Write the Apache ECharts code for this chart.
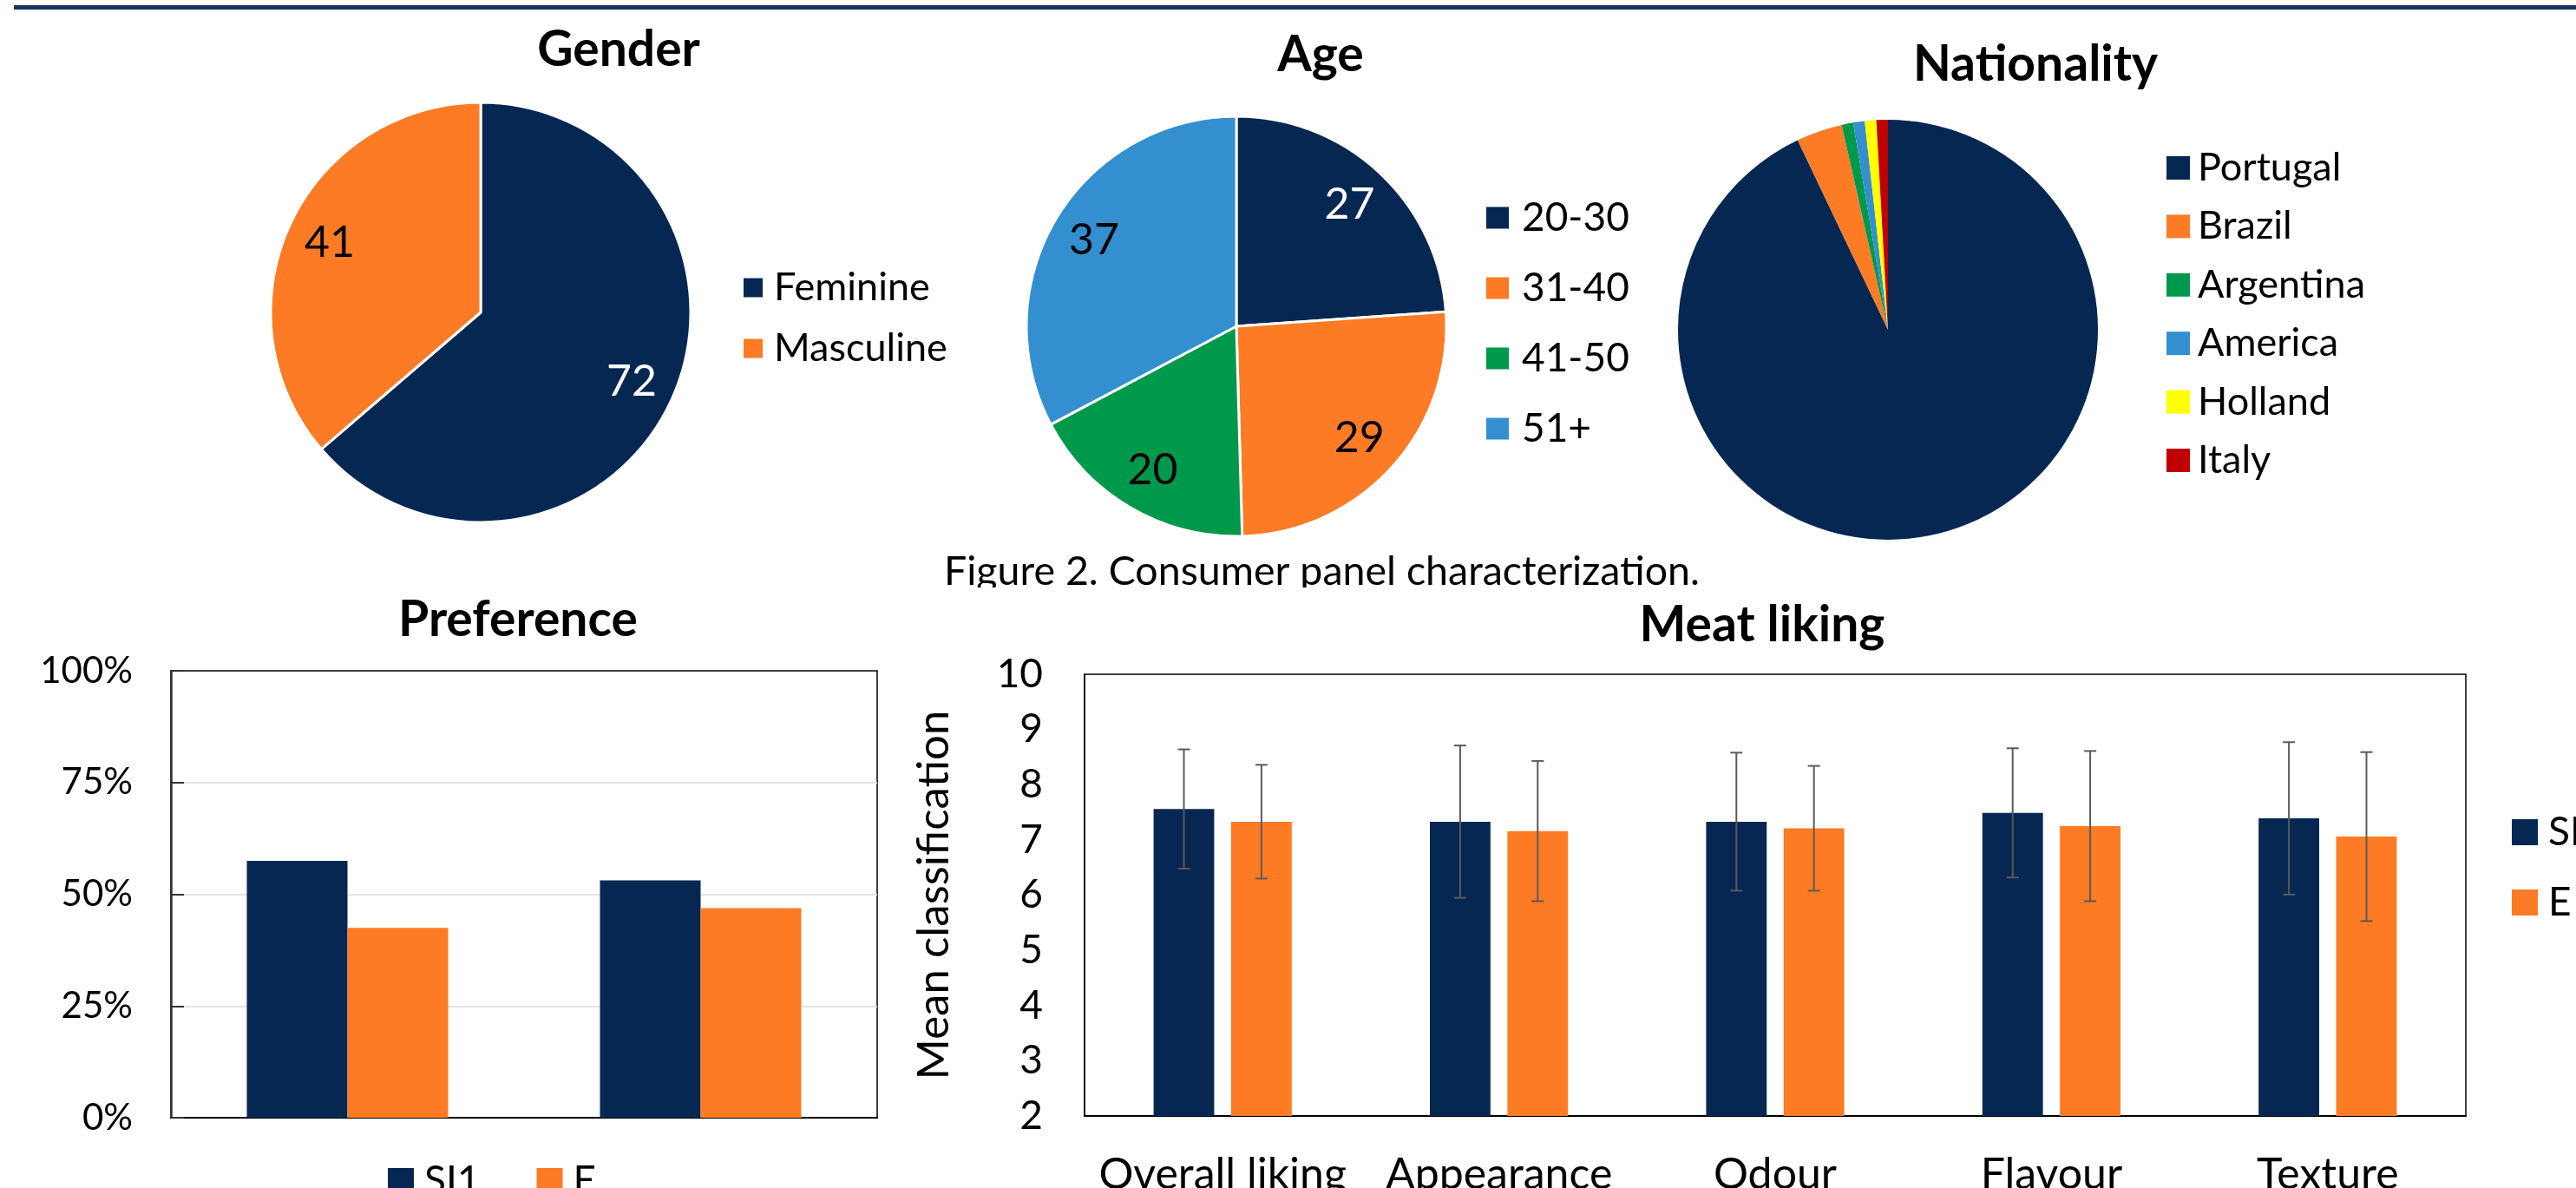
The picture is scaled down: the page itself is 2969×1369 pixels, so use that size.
<!DOCTYPE html>
<html>
<head>
<meta charset="utf-8">
<script src="https://cdn.jsdelivr.net/npm/echarts@6/dist/echarts.min.js"></script>
<style>
html,body{margin:0;padding:0;background:#fff;}
#chart{width:2969px;height:1369px;}
</style>
</head>
<body>
<div id="chart"></div>
<script>
// ---- data ----
const genderNames = ['Feminine', 'Masculine'];
const genderValues = [72, 41];
const ageNames = ['20-30', '31-40', '41-50', '51+'];
const ageValues = [27, 29, 20, 37];
const nationNames = ['Portugal', 'Brazil', 'Argentina', 'America', 'Holland', 'Italy'];
const nationValues = [105, 4, 1, 1, 1, 1];
const prefCategories = ['1', '2'];
const prefSI1 = [57.5, 53.1];
const prefE = [42.5, 46.9];
const meatCategories = ['Overall liking', 'Appearance', 'Odour', 'Flavour', 'Texture'];
const meatSI1 = [7.56, 7.33, 7.33, 7.49, 7.39];
const meatE = [7.33, 7.16, 7.21, 7.25, 7.06];
const meatSI1Sd = [1.08, 1.38, 1.25, 1.17, 1.38];
const meatESd = [1.03, 1.27, 1.13, 1.36, 1.53];

// ---- styles ----
const NAVY = '#072753', ORANGE = '#FD7B24', GREEN = '#00994C', LBLUE = '#338FD0', YELLOW = '#FFFF00', RED = '#C00000';
const FONT = 'Lato';
const genderColors = [NAVY, ORANGE];
const genderLabelColors = ['#fff', '#000'];
const ageColors = [NAVY, ORANGE, GREEN, LBLUE];
const ageLabelColors = ['#fff', '#000', '#000', '#000'];
const nationColors = [NAVY, ORANGE, GREEN, LBLUE, YELLOW, RED];

function pieData(names, values, colors) {
  return names.map((n, i) => ({ name: n, value: values[i], itemStyle: { color: colors[i] } }));
}
function labelRingData(names, values, labelColors) {
  return names.map((n, i) => ({ name: n, value: values[i], itemStyle: { color: 'rgba(0,0,0,0)' }, label: { color: labelColors[i] } }));
}
function mainPie(center, names, values, colors, bw) {
  return { type: 'pie', center: center, radius: 242, startAngle: 90, clockwise: true,
    data: pieData(names, values, colors), label: { show: false }, labelLine: { show: false },
    itemStyle: { borderColor: '#fff', borderWidth: bw }, emphasis: { disabled: true }, z: 2 };
}
function labelPie(center, names, values, labelColors) {
  return { type: 'pie', center: center, radius: [135, 242], startAngle: 90, clockwise: true, silent: true,
    data: labelRingData(names, values, labelColors), avoidLabelOverlap: false,
    label: { show: true, position: 'inside', fontSize: 50, fontFamily: FONT, formatter: '{c}' },
    labelLine: { show: false }, itemStyle: { borderWidth: 0 }, emphasis: { disabled: true }, z: 3 };
}
function titleAt(text, x, y) {
  return { text: text, left: x, top: y, textAlign: 'center', textVerticalAlign: 'top', padding: 0,
    textStyle: { fontSize: 57, fontWeight: 'bold', color: '#000', fontFamily: FONT } };
}
function legendAt(data, x, y, opts) {
  return Object.assign({ data: data, left: x, top: y, orient: 'vertical', icon: 'rect', padding: 0,
    selectedMode: false, itemStyle: { borderWidth: 0 },
    textStyle: { fontSize: 45, color: '#000', fontFamily: FONT, padding: [0, 0, 0, 8] } }, opts);
}
function errorSeries(name, means, sds, side) {
  return {
    type: 'custom', name: name, xAxisIndex: 1, yAxisIndex: 1, z: 5, silent: true,
    data: means.map((m, i) => [i, m - sds[i], m + sds[i]]),
    encode: { x: 0, y: [1, 2] },
    renderItem: function (params, api) {
      const xi = api.value(0);
      const lo = api.coord([xi, api.value(1)]);
      const hi = api.coord([xi, api.value(2)]);
      const band = api.size([1, 0])[0];
      const barW = band * 0.5 / 2.28;
      const x = lo[0] + side * barW * 1.28 / 2;
      const cap = 7;
      const st = { stroke: '#5a5a5a', lineWidth: 2 };
      return { type: 'group', children: [
        { type: 'line', shape: { x1: x, y1: hi[1], x2: x, y2: lo[1] }, style: st },
        { type: 'line', shape: { x1: x - cap, y1: hi[1], x2: x + cap, y2: hi[1] }, style: st },
        { type: 'line', shape: { x1: x - cap, y1: lo[1], x2: x + cap, y2: lo[1] }, style: st }
      ] };
    }
  };
}

const chart = echarts.init(document.getElementById('chart'), null, { renderer: 'canvas' });
const option = {
  animation: false,
  backgroundColor: '#fff',
  textStyle: { fontFamily: FONT },
  title: [
    titleAt('Gender', 713, 29),
    titleAt('Age', 1522, 35),
    titleAt('Nationality', 2346, 46),
    titleAt('Preference', 597, 686),
    titleAt('Meat liking', 2031, 692)
  ],
  legend: [
    legendAt(genderNames, 857, 309, { itemWidth: 22, itemHeight: 22, itemGap: 25 }),
    legendAt(ageNames, 1713, 228, { itemWidth: 26, itemHeight: 25, itemGap: 35,
      textStyle: { fontSize: 46, color: '#000', fontFamily: FONT, padding: [0, 0, 0, 10] } }),
    legendAt(nationNames, 2497, 171, { itemWidth: 27, itemHeight: 27, itemGap: 22.4,
      textStyle: { fontSize: 45, color: '#000', fontFamily: FONT, padding: [0, 0, 0, 4] } }),
    legendAt(['SI1', 'E'], 447, 1338, { orient: 'horizontal', itemWidth: 30, itemHeight: 30, itemGap: 65,
      textStyle: { fontSize: 46, color: '#000', fontFamily: FONT, padding: [0, 0, 0, 7] } }),
    legendAt(['SI1', 'E'], 2895, 936, { itemWidth: 30, itemHeight: 30, itemGap: 35,
      textStyle: { fontSize: 46, color: '#000', fontFamily: FONT, padding: [0, 0, 0, 7] } })
  ],
  graphic: [
    { type: 'rect', z: 10, shape: { x: 16, y: 6, width: 2953, height: 5 }, style: { fill: '#17325F' } },
    { type: 'text', z: -10, x: 1088, y: 659,
      style: { text: 'Figure 2. Consumer panel characterization.', fontSize: 46.5, fontFamily: FONT, fill: '#000',
        align: 'left', verticalAlign: 'middle', textAlign: 'left', textVerticalAlign: 'middle' } },
    { type: 'rect', z: -5, shape: { x: 0, y: 677, width: 2969, height: 692 }, style: { fill: '#fff' } }
  ],
  grid: [
    { left: 197, top: 773, width: 814, height: 515, show: true, borderColor: '#000', borderWidth: 1.5,
      containLabel: false, outerBoundsMode: 'none' },
    { left: 1250, top: 777, width: 1592, height: 509, show: true, borderColor: '#000', borderWidth: 1.5,
      containLabel: false, outerBoundsMode: 'none' }
  ],
  xAxis: [
    { gridIndex: 0, type: 'category', data: prefCategories, axisLabel: { show: false }, axisTick: { show: false },
      axisLine: { lineStyle: { color: '#000', width: 2 } } },
    { gridIndex: 1, type: 'category', data: meatCategories,
      axisLabel: { fontSize: 50, color: '#000', margin: 43, fontFamily: FONT, interval: 0 },
      axisTick: { show: false }, axisLine: { lineStyle: { color: '#000', width: 2 } } }
  ],
  yAxis: [
    { gridIndex: 0, type: 'value', min: 0, max: 100, interval: 25,
      axisLabel: { formatter: '{value}%', fontSize: 42, color: '#000', margin: 44, fontFamily: FONT },
      axisLine: { show: true, lineStyle: { color: '#333', width: 2.5 } },
      axisTick: { show: true, inside: true, length: 15, lineStyle: { color: '#333', width: 2 } },
      splitLine: { show: true, showMinLine: false, showMaxLine: false, lineStyle: { color: '#E6E4DD', width: 2 } } },
    { gridIndex: 1, type: 'value', min: 2, max: 10, interval: 1,
      name: 'Mean classification', nameLocation: 'middle', nameGap: 148,
      nameTextStyle: { fontSize: 51, color: '#000', fontFamily: FONT },
      axisLabel: { fontSize: 46, color: '#000', margin: 48, fontFamily: FONT },
      axisLine: { show: true, lineStyle: { color: '#000', width: 1.5 } },
      axisTick: { show: false }, splitLine: { show: false } }
  ],
  series: [
    mainPie([554, 360], genderNames, genderValues, genderColors, 3),
    labelPie([554, 360], genderNames, genderValues, genderLabelColors),
    mainPie([1425, 376], ageNames, ageValues, ageColors, 3),
    labelPie([1425, 376], ageNames, ageValues, ageLabelColors),
    mainPie([2176, 380], nationNames, nationValues, nationColors, 0),
    { type: 'bar', name: 'SI1', xAxisIndex: 0, yAxisIndex: 0, data: prefSI1, barGap: '0%', barCategoryGap: '43%',
      itemStyle: { color: NAVY }, emphasis: { disabled: true } },
    { type: 'bar', name: 'E', xAxisIndex: 0, yAxisIndex: 0, data: prefE, barGap: '0%', barCategoryGap: '43%',
      itemStyle: { color: ORANGE }, emphasis: { disabled: true } },
    { type: 'bar', name: 'SI1', xAxisIndex: 1, yAxisIndex: 1, data: meatSI1, barGap: '28%', barCategoryGap: '50%',
      itemStyle: { color: NAVY }, emphasis: { disabled: true } },
    { type: 'bar', name: 'E', xAxisIndex: 1, yAxisIndex: 1, data: meatE, barGap: '28%', barCategoryGap: '50%',
      itemStyle: { color: ORANGE }, emphasis: { disabled: true } },
    errorSeries('SI1 sd', meatSI1, meatSI1Sd, -1),
    errorSeries('E sd', meatE, meatESd, 1)
  ]
};
chart.setOption(option);
</script>
</body>
</html>
